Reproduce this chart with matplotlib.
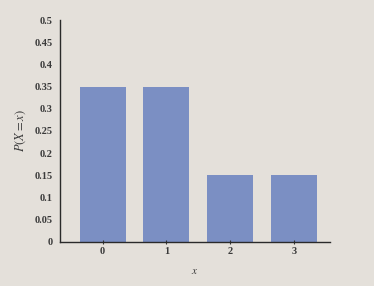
import matplotlib
matplotlib.use('Agg')
import matplotlib.pyplot as plt

# Data
x_values = [0, 1, 2, 3]
probabilities = [0.35, 0.35, 0.15, 0.15]
y_ticks = [0, 0.05, 0.1, 0.15, 0.2, 0.25, 0.3, 0.35, 0.4, 0.45, 0.5]
y_tick_labels = ['0', '0.05', '0.1', '0.15', '0.2', '0.25', '0.3', '0.35', '0.4', '0.45', '0.5']

PAPER = '#e4e0da'
BAR = '#7b8fc3'

plt.rcParams['mathtext.fontset'] = 'stix'

fig = plt.figure(figsize=(3.74, 2.86), dpi=100, facecolor=PAPER)
ax = fig.add_axes([0.16, 0.154, 0.722, 0.776])
ax.set_facecolor(PAPER)

ax.bar(x_values, probabilities, width=0.72, color=BAR)

ax.set_xlim(-0.67, 3.56)
ax.set_ylim(0, 0.5)
ax.set_xticks(x_values)
ax.set_xticklabels([str(v) for v in x_values], fontsize=7.5, family='Liberation Serif',
                   fontweight='bold', color='#3a3a3a')
ax.set_yticks(y_ticks)
ax.set_yticklabels(y_tick_labels, fontsize=7.5, family='Liberation Serif',
                   fontweight='bold', color='#3a3a3a')
ax.tick_params(axis='y', length=0, pad=5)
ax.tick_params(axis='x', length=3, width=0.8, direction='inout', color='#333333', pad=2)

for side in ['top', 'right']:
    ax.spines[side].set_visible(False)
for side in ['left', 'bottom']:
    ax.spines[side].set_color('#2a2a2a')
    ax.spines[side].set_linewidth(1.0)

ax.set_xlabel('$x$', fontsize=8, color='#3a3a3a', labelpad=7)
ax.set_ylabel('$P(X = x)$', fontsize=9, color='#3a3a3a', labelpad=5)

plt.savefig('out.png', dpi=100, facecolor=PAPER)
plt.close()
